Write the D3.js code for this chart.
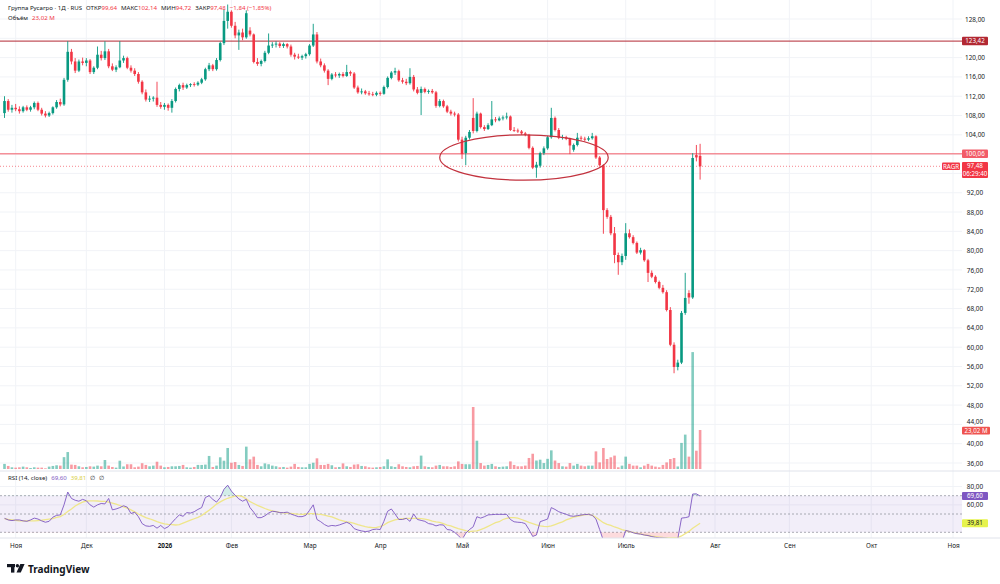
<!DOCTYPE html>
<html>
<head>
<meta charset="utf-8">
<script src="https://cdnjs.cloudflare.com/ajax/libs/d3/7.8.5/d3.min.js"></script>
<style>
  body { margin: 0; background: #fff; }
  svg text { font-family: "Noto Sans", "Open Sans", sans-serif; }
</style>
</head>
<body>
<svg id="chart" width="1000" height="584"></svg>
<script>
// daily bars, Rusagro (RAGR), oldest first
var opens = [
  108.5,111.0,109.2,109.6,109.3,108.9,109.7,109.2,109.7,110.6,
  109.2,108.4,108.0,108.5,109.7,110.8,110.3,115.4,121.2,119.2,
  117.3,119.2,118.9,119.4,117.0,117.9,120.6,119.9,121.3,118.2,
  117.5,118.0,119.4,119.9,117.9,117.3,116.6,115.0,112.8,111.3,
  111.5,111.7,110.2,109.8,110.2,109.6,111.0,113.5,114.3,113.8,
  114.3,114.5,114.4,114.8,115.5,117.6,118.4,117.6,119.5,123.0,
  127.6,129.5,126.6,124.6,125.2,124.2,125.6,124.8,119.1,118.7,
  119.3,121.0,122.5,122.7,122.9,122.4,122.8,122.3,120.6,120.2,
  120.0,120.3,120.7,122.5,124.8,119.2,118.4,117.3,115.6,116.5,
  116.3,116.6,116.2,117.0,116.7,113.8,112.8,113.0,112.6,112.4,
  112.3,112.7,112.5,113.9,115.8,116.9,117.2,115.3,115.0,114.7,
  116.0,113.4,112.7,113.5,112.9,113.1,112.8,110.0,111.0,109.9,
  108.8,108.4,108.2,103.0,100.2,103.4,107.5,104.8,108.4,105.6,
  105.2,106.0,107.2,107.0,107.4,107.6,107.8,105.0,104.9,104.7,
  104.3,104.0,101.3,97.2,97.6,100.2,101.2,103.5,107.5,105.0,
  103.4,103.5,103.2,100.9,101.9,103.4,103.2,103.0,103.3,103.7,
  99.3,97.7,88.4,87.0,83.6,79.1,77.6,78.9,83.6,82.8,
  81.6,79.6,80.1,78.0,75.4,74.6,73.5,72.3,71.4,67.7,
  60.5,55.9,56.8,67.1,71.2,70.3,99.8,99.64];
var highs = [
  112.0,111.4,110.2,110.4,109.9,110.0,110.1,110.0,110.9,110.9,
  109.6,108.9,108.8,109.9,111.2,111.5,115.8,123.4,121.8,119.9,
  119.6,120.0,119.9,119.7,118.2,122.3,121.4,123.4,121.8,118.8,
  118.4,123.4,120.4,120.2,118.4,117.8,117.0,115.3,113.4,112.1,
  112.0,115.0,110.8,110.6,110.5,111.4,113.8,114.6,114.8,114.6,
  114.7,114.9,115.1,115.8,117.9,118.9,118.7,119.9,123.3,130.0,
  131.0,129.8,127.4,125.8,126.0,129.8,126.3,125.0,119.9,119.6,
  121.4,125.0,123.2,123.4,123.2,123.1,123.0,122.7,121.0,120.8,
  120.6,121.0,122.8,127.0,125.3,119.8,118.8,117.6,116.8,117.0,
  116.9,117.0,118.5,117.3,117.0,114.2,113.6,113.3,113.1,112.9,
  113.0,113.0,114.2,116.1,117.2,117.9,117.5,115.8,115.6,117.8,
  116.4,113.9,114.0,113.8,113.4,113.5,113.1,111.4,111.3,110.2,
  109.2,108.8,108.5,103.6,103.8,105.0,111.6,108.8,108.6,106.0,
  106.4,111.0,107.7,107.8,108.0,108.6,108.0,105.6,105.3,105.0,
  104.6,104.2,101.6,98.4,100.5,101.6,103.8,109.6,107.8,105.4,
  104.0,103.8,103.4,102.2,104.4,103.8,103.6,103.7,104.4,103.9,
  99.6,97.9,88.8,87.4,84.9,79.6,79.4,85.7,84.4,83.2,
  81.9,80.6,80.3,78.3,75.9,74.9,73.8,72.9,71.8,68.3,
  61.0,57.4,67.5,75.4,71.8,100.2,101.9,102.14];
var lows = [
  107.5,108.8,108.6,108.9,108.4,108.6,108.9,108.8,109.3,108.9,
  108.0,107.6,107.7,108.2,109.4,109.9,110.0,115.0,118.6,116.8,
  117.0,118.4,118.2,116.6,116.6,117.6,119.4,119.5,117.8,117.2,
  117.0,117.8,118.9,117.6,116.9,116.2,114.6,112.4,110.9,110.8,
  110.9,109.8,109.4,109.2,109.0,108.6,110.7,113.0,113.3,113.5,
  113.9,114.0,114.1,114.5,115.2,117.2,117.2,117.3,119.2,122.6,
  126.0,126.2,124.0,121.6,123.6,123.9,124.4,118.8,118.3,118.2,
  119.0,120.7,122.0,122.1,122.0,122.0,121.9,120.2,119.6,119.7,
  119.5,119.8,120.4,122.2,118.8,118.0,116.9,114.3,115.3,115.9,
  115.8,115.9,116.0,116.2,113.5,112.5,112.4,112.3,112.1,112.0,
  112.0,112.1,112.3,113.6,115.5,116.4,115.0,114.6,114.3,114.4,
  113.0,112.4,108.1,112.6,112.5,112.5,109.6,109.7,109.6,108.5,
  108.0,107.8,102.6,99.0,97.7,103.0,104.3,104.5,105.3,104.8,
  105.0,105.8,106.6,106.8,107.0,107.2,104.8,104.6,104.4,104.0,
  103.7,101.0,96.9,95.1,97.2,99.8,100.9,103.2,104.7,103.1,
  103.0,102.9,100.0,100.5,101.6,102.8,102.6,102.7,103.0,99.0,
  97.4,83.5,86.6,83.2,77.4,75.0,77.0,78.1,82.5,81.3,
  79.3,79.2,77.7,73.5,74.3,73.2,72.0,71.1,67.4,60.2,
  54.6,55.2,56.5,66.7,69.0,70.0,98.5,94.72];
var closes = [
  111.0,109.2,109.6,109.3,108.9,109.7,109.2,109.7,110.6,109.2,
  108.4,108.0,108.5,109.7,110.8,110.3,115.4,121.2,119.2,117.3,
  119.2,118.9,119.4,117.0,117.9,120.6,119.9,121.3,118.2,117.5,
  118.0,119.4,119.9,117.9,117.3,116.6,115.0,112.8,111.3,111.5,
  111.7,110.2,109.8,110.2,109.6,111.0,113.5,114.3,113.8,114.3,
  114.5,114.4,114.8,115.5,117.6,118.4,117.6,119.5,123.0,127.6,
  129.5,126.6,124.6,125.2,124.2,129.2,124.8,119.1,118.7,119.3,
  121.0,122.5,122.7,122.9,122.4,122.8,122.3,120.6,120.2,120.0,
  120.3,120.7,122.5,124.8,119.2,118.4,117.3,115.6,116.5,116.3,
  116.6,116.2,117.0,116.7,113.8,112.8,113.0,112.6,112.4,112.3,
  112.7,112.5,113.9,115.8,116.9,117.2,115.3,115.0,114.7,116.0,
  113.4,112.7,113.5,112.9,113.1,112.8,110.0,111.0,109.9,108.8,
  108.4,108.2,103.0,100.0,103.4,104.6,104.8,108.4,105.6,105.2,
  106.0,107.2,107.0,107.4,107.6,107.8,105.0,104.9,104.7,104.3,
  104.0,101.3,97.2,97.8,100.2,101.2,103.5,107.5,105.0,103.4,
  103.5,103.2,101.8,101.9,103.4,103.2,103.0,103.3,103.7,99.3,
  97.7,88.4,87.0,83.6,79.1,77.6,78.9,83.6,82.8,81.6,
  79.6,80.1,78.0,75.4,74.6,73.5,72.3,71.4,67.7,60.5,
  55.9,56.8,67.1,70.2,70.3,99.2,99.32,97.48];
// volume, millions
var volumes = [
  3.0,1.8,1.0,0.8,1.0,1.4,1.0,0.6,1.0,0.8,
  0.8,0.4,1.4,1.8,2.2,2.0,7.0,10.0,2.6,2.4,
  1.6,1.0,1.2,1.6,1.4,2.0,1.6,5.3,2.0,1.2,
  0.8,4.9,1.5,2.8,2.8,1.0,1.4,3.4,2.4,1.6,
  2.0,4.3,2.0,1.0,1.2,1.6,1.6,1.8,2.4,1.0,
  0.8,1.2,2.4,2.4,2.6,7.7,1.2,2.0,6.9,4.9,
  12.4,3.7,4.1,2.4,1.8,13.2,5.7,7.3,2.4,1.6,
  3.3,2.8,2.0,1.6,1.0,1.2,0.8,1.4,3.0,1.2,
  1.0,1.0,3.0,3.7,6.3,2.4,2.4,3.0,2.2,1.0,
  1.2,3.3,1.6,1.2,2.6,2.8,1.8,1.6,1.0,0.8,
  1.0,1.2,1.6,5.7,1.6,1.2,2.8,1.6,1.2,1.0,
  1.6,1.8,7.9,1.6,1.2,1.0,2.0,2.4,1.6,1.6,
  1.2,1.6,4.5,3.0,2.8,2.8,36.6,16.7,3.5,2.0,
  2.4,3.0,1.6,1.2,1.4,1.6,4.5,2.4,1.6,1.6,
  2.0,6.5,9.0,5.0,5.5,3.5,6.0,11.0,5.0,3.5,
  1.6,1.4,3.5,2.0,3.0,2.0,1.6,2.0,2.0,10.4,
  3.9,12.4,5.9,6.9,7.9,1.0,2.0,7.3,3.0,2.0,
  2.0,1.0,2.0,3.0,2.0,1.4,1.0,2.4,3.9,5.9,
  6.5,1.5,15.4,20.3,7.3,69.0,10.8,23.02];
var rsi = [
  45.3,43.5,42.8,43.5,43.5,42.5,42,43.5,45.5,44.5,
  42.5,41,42,46.5,48.5,49,60,74,67,65,
  64,66,64.5,60,57.5,60,61.5,61,67,54.5,
  55.5,57,59,57.5,50.5,52,47,39.5,37,36.5,
  37.5,34.5,37.5,34,36,40.5,45,49,47.5,51.5,
  51,52.5,55,57,68,70,66,63,68,77,
  81.5,75,70.5,66.5,64,66,57,52,46,46,
  48,51,53,52.5,51.5,51.5,52,50,48.5,47.1,
  47.1,48.5,54,60,44,41.6,38.5,36.5,37.5,37,
  38,39.5,41,39,34,32.5,31.5,30.8,31.3,33,
  33.5,33,42,53,55.5,50,44,44,45.3,42,
  50,44,43,42,39.5,38.8,37,38.2,38,33,
  32.5,30,26.5,22,29,33,36,47,45.5,47,
  49,49.3,49.6,49.6,49.6,49.6,44,41.5,41,40.7,
  39.5,33,25.5,27,41.6,43,44.5,57,55,52.5,
  51,49.7,48,47.5,48.2,48.9,49.4,49.6,48.5,44.5,
  33,21,22,20,18,17.5,19.5,32,31,29.5,
  28.5,28,27,26.5,25.3,24.5,24,23.8,23.5,23,
  22.7,22.7,45.5,46,47,71.8,72,69.6];
var rsiMa = [
  45,44,43.5,43,42.5,42.4,42.4,42.4,42.4,42.8,
  43.2,43.8,44.4,45,46.3,47.2,49.5,52.8,55.5,58.8,
  61,63,64.2,64.4,64.3,64.2,63.9,63.7,63,62,
  60.7,59.3,57.8,56.5,54.5,52.3,50,48,46,44.8,
  43.3,41.6,40.4,39.2,38.6,38.3,38,38.5,40,41.6,
  43.2,44.8,46.3,48.3,51.2,54,57.5,60.8,63.2,65.5,
  67.2,68.5,69.5,70,69,66.5,63.5,61.5,59.5,57.8,
  56,54.6,53.5,52.5,51.8,51.3,50.9,50.6,50.2,49.8,
  49.6,50,50.4,50.4,49.8,49.5,48.8,47.8,46.8,45.3,
  43.5,42.5,41.5,40.9,39.8,38.3,37.2,36.3,35.5,35.2,
  35.4,36.2,38,40.5,42.2,43.5,44.5,44.8,45.3,45.3,
  45.3,45.3,45,44.3,43.6,42.3,41.3,40.8,39.5,37.8,
  37,35.5,34,33,31.8,30.7,31.2,31.5,33,34.5,
  36.5,38.5,40.5,41.6,44,45.3,46,46,45.5,44,
  42.4,40.8,39.5,38,37,36.5,36.2,37,38.5,40,
  41.5,43.5,45,46.5,47.3,48.3,49.2,49.6,48.6,46.5,
  43.5,40.5,38.7,37.5,35.8,34.5,33,31.8,30.8,29.8,
  28.9,28.2,27.1,26.5,25.8,25.3,24.8,24.3,24.2,24.2,
  24.2,24.2,26,28.5,31,34.4,37.2,39.81];

var monthLabels = ["Ноя", "Дек", "2026", "Фев", "Мар", "Апр", "Май", "Июн", "Июль", "Авг", "Сен", "Окт", "Ноя"];
var monthBars = [3, 22, 43, 61, 82, 101, 123, 146, 167, 191, 211, 233, 255];
var priceTicks = d3.range(36, 129, 4);
var rsiTicks = [80, 60];
var levels = [123.42, 100.06];
var zone = { from: 117, to: 162.3, top: 104.0, bottom: 94.6 };

var up = "#089981", down = "#f23645";
var right = 962;

var loc = d3.formatLocale({ decimal: ",", thousands: " ", grouping: [3], currency: ["", ""] });
var f2 = loc.format(".2f");

var svg = d3.select("#chart");

var x = d3.scaleLinear().domain([0, 187]).range([4.5, 700.1]);
var y = d3.scaleLinear().domain([36, 128]).range([463, 19]);
var yVol = d3.scaleLinear().domain([0, 23.02]).range([469, 430]);
var yRsi = d3.scaleLinear().domain([30, 70]).range([532.3, 495.7]);

var bars = d3.range(opens.length).map(function(i) {
  return { i: i, o: opens[i], h: highs[i], l: lows[i], c: closes[i], v: volumes[i], r: rsi[i], m: rsiMa[i] };
});

svg.append("rect").attr("width", 1000).attr("height", 584).attr("fill", "#fff");

// grid
var grid = svg.append("g").attr("stroke", "#f1f3f7").attr("stroke-width", 1);
grid.selectAll(".hg").data(priceTicks).enter().append("line")
  .attr("x1", 0).attr("x2", right)
  .attr("y1", function(d) { return y(d); }).attr("y2", function(d) { return y(d); });
grid.selectAll(".rg").data(rsiTicks).enter().append("line")
  .attr("x1", 0).attr("x2", right)
  .attr("y1", function(d) { return yRsi(d); }).attr("y2", function(d) { return yRsi(d); });
grid.selectAll(".vg").data(monthBars).enter().append("line")
  .attr("x1", function(d) { return x(d); }).attr("x2", function(d) { return x(d); })
  .attr("y1", 0).attr("y2", 538);

// volume
svg.append("g").selectAll("rect").data(bars).enter().append("rect")
  .attr("x", function(d) { return x(d.i) - 1.3; })
  .attr("width", 2.6)
  .attr("y", function(d) { return yVol(d.v); })
  .attr("height", function(d) { return yVol(0) - yVol(d.v); })
  .attr("fill", function(d) { return d.c >= d.o ? up : down; })
  .attr("fill-opacity", 0.5);

// levels
svg.append("g").selectAll("line").data(levels).enter().append("line")
  .attr("x1", 0).attr("x2", right)
  .attr("y1", function(d) { return y(d); }).attr("y2", function(d) { return y(d); })
  .attr("stroke", function(d, i) { return i == 0 ? "#b22833" : "#f25c68"; })
  .attr("stroke-width", 1);

// last price dotted line
svg.append("line")
  .attr("x1", 0).attr("x2", 942)
  .attr("y1", y(closes[closes.length - 1])).attr("y2", y(closes[closes.length - 1]))
  .attr("stroke", down).attr("stroke-opacity", 0.6).attr("stroke-dasharray", "1,2");

// candles
var candle = svg.append("g").selectAll("g").data(bars).enter().append("g");
candle.append("line")
  .attr("x1", function(d) { return x(d.i); }).attr("x2", function(d) { return x(d.i); })
  .attr("y1", function(d) { return y(d.h); }).attr("y2", function(d) { return y(d.l); })
  .attr("stroke", function(d) { return d.c >= d.o ? up : down; })
  .attr("stroke-width", 0.9);
candle.append("rect")
  .attr("x", function(d) { return x(d.i) - 1.3; })
  .attr("width", 2.6)
  .attr("y", function(d) { return y(Math.max(d.o, d.c)); })
  .attr("height", function(d) { return Math.max(0.8, Math.abs(y(d.o) - y(d.c))); })
  .attr("fill", function(d) { return d.c >= d.o ? up : down; });

// highlighted zone
svg.append("ellipse")
  .attr("cx", (x(zone.from) + x(zone.to)) / 2)
  .attr("cy", (y(zone.top) + y(zone.bottom)) / 2)
  .attr("rx", (x(zone.to) - x(zone.from)) / 2)
  .attr("ry", (y(zone.bottom) - y(zone.top)) / 2)
  .attr("fill", "none").attr("stroke", "#c2323e").attr("stroke-width", 1.2);

// RSI pane
svg.append("line").attr("x1", 0).attr("x2", 1000).attr("y1", 471).attr("y2", 471)
  .attr("stroke", "#e0e3eb");
var defs = svg.append("defs");
defs.append("clipPath").attr("id", "rsiClip").append("rect")
  .attr("x", 0).attr("y", 472).attr("width", right).attr("height", 66);
defs.append("clipPath").attr("id", "overClip").append("rect")
  .attr("x", 0).attr("y", 472).attr("width", right).attr("height", yRsi(70) - 472);
defs.append("clipPath").attr("id", "underClip").append("rect")
  .attr("x", 0).attr("y", yRsi(30)).attr("width", right).attr("height", 538 - yRsi(30));

var rsiG = svg.append("g").attr("clip-path", "url(#rsiClip)");
rsiG.append("rect").attr("x", 0).attr("width", right)
  .attr("y", yRsi(70)).attr("height", yRsi(30) - yRsi(70))
  .attr("fill", "#7e57c2").attr("fill-opacity", 0.1);
rsiG.selectAll(".band").data([70, 50, 30]).enter().append("line")
  .attr("x1", 0).attr("x2", right)
  .attr("y1", function(d) { return yRsi(d); }).attr("y2", function(d) { return yRsi(d); })
  .attr("stroke", "#9598a1").attr("stroke-dasharray", "2,2").attr("stroke-width", 0.8);

rsiG.append("path").datum(bars)
  .attr("clip-path", "url(#overClip)")
  .attr("fill", up).attr("fill-opacity", 0.18)
  .attr("d", d3.area().x(function(d) { return x(d.i); })
    .y0(yRsi(70)).y1(function(d) { return yRsi(d.r); }));
rsiG.append("path").datum(bars)
  .attr("clip-path", "url(#underClip)")
  .attr("fill", down).attr("fill-opacity", 0.18)
  .attr("d", d3.area().x(function(d) { return x(d.i); })
    .y0(yRsi(30)).y1(function(d) { return yRsi(d.r); }));

rsiG.append("path").datum(bars)
  .attr("fill", "none").attr("stroke", "#efe68a").attr("stroke-width", 1.3)
  .attr("d", d3.line().x(function(d) { return x(d.i); }).y(function(d) { return yRsi(d.m); }));
rsiG.append("path").datum(bars)
  .attr("fill", "none").attr("stroke", "#7e57c2").attr("stroke-width", 0.9)
  .attr("d", d3.line().x(function(d) { return x(d.i); }).y(function(d) { return yRsi(d.r); }));

// value tags on the scale (their positions hide the ticks underneath)
var tagYs = [y(levels[0]), y(levels[1]), y(closes[187]), y(closes[187]) + 7.5];
var shownTicks = priceTicks.filter(function(t) {
  return tagYs.every(function(ty) { return Math.abs(y(t) - ty) > 6; });
});

// price axis
var pAxis = svg.append("g").attr("transform", "translate(" + right + ",0)")
  .call(d3.axisRight(y).tickValues(shownTicks).tickSize(0).tickPadding(13).tickFormat(f2));
pAxis.select(".domain").remove();
pAxis.selectAll("text").attr("text-anchor", "middle").attr("font-size", 6.4).attr("fill", "#131722")
  .attr("dy", function(d) { return d == 44 ? "-0.15em" : "0.32em"; })
  .style("font-family", "Noto Sans, sans-serif");

var rAxis = svg.append("g").attr("transform", "translate(" + right + ",0)")
  .call(d3.axisRight(yRsi).tickValues(rsiTicks).tickSize(0).tickPadding(13).tickFormat(f2));
rAxis.select(".domain").remove();
rAxis.selectAll("text").attr("text-anchor", "middle").attr("font-size", 6.4).attr("fill", "#131722")
  .style("font-family", "Noto Sans, sans-serif");

// time axis
svg.append("line").attr("x1", 0).attr("x2", 1000).attr("y1", 538).attr("y2", 538).attr("stroke", "#e0e3eb");
var tAxis = svg.append("g").attr("transform", "translate(0,543)")
  .call(d3.axisBottom(x).tickValues(monthBars).tickSize(0).tickPadding(0)
    .tickFormat(function(d, i) { return monthLabels[i]; }));
tAxis.select(".domain").remove();
tAxis.selectAll("text").attr("font-size", 6.4).attr("fill", "#131722")
  .attr("font-weight", function(d, i) { return monthLabels[i] == "2026" ? 700 : 400; })
  .style("font-family", "Noto Sans, sans-serif");

function tag(cx, cy, w, h, fill, lines, color) {
  var g = svg.append("g");
  g.append("rect").attr("x", cx - w / 2).attr("y", cy - h / 2).attr("width", w).attr("height", h)
    .attr("rx", 1).attr("fill", fill);
  lines.forEach(function(t, k) {
    g.append("text").attr("x", cx).attr("y", cy - h / 2 + 6 + k * 7.5)
      .attr("text-anchor", "middle").attr("font-size", 6.2).attr("fill", color).text(t);
  });
}
tag(975, y(levels[0]), 26, 8.5, "#b22833", [f2(levels[0])], "#fff");
tag(975, y(levels[1]), 26, 8.5, "#f25c68", [f2(levels[1])], "#fff");
tag(951, y(closes[187]), 18, 7.5, down, ["RAGR"], "#fff");
svg.append("rect").attr("x", 962).attr("y", y(closes[187]) - 4.2).attr("width", 26).attr("height", 16)
  .attr("rx", 1).attr("fill", down);
svg.append("text").attr("x", 975).attr("y", y(closes[187]) + 2.2).attr("text-anchor", "middle")
  .attr("font-size", 6.2).attr("fill", "#fff").text(f2(closes[187]));
svg.append("text").attr("x", 975).attr("y", y(closes[187]) + 9.6).attr("text-anchor", "middle")
  .attr("font-size", 6.2).attr("fill", "#fff").text("06:29:40");
tag(976, yVol(volumes[187]) + 0.6, 28, 7.6, "#ef5350", [f2(volumes[187]) + " M"], "#fff");
tag(975, yRsi(rsi[187]), 26, 8, "#7e57c2", [f2(rsi[187])], "#fff");
tag(975, yRsi(rsiMa[187]), 26, 8, "#e6f34d", [f2(rsiMa[187])], "#131722");

// legends
var t1 = svg.append("text").attr("x", 8).attr("y", 10).attr("font-size", 6.1).attr("fill", "#131722");
t1.append("tspan").text("Группа Русагро · 1Д · RUS");
[["ОТКР", f2(opens[187])], ["МАКС", f2(highs[187])], ["МИН", f2(lows[187])], ["ЗАКР", f2(closes[187])]]
  .forEach(function(p) {
    t1.append("tspan").attr("dx", 4).text(p[0]);
    t1.append("tspan").attr("fill", down).text(p[1]);
  });
t1.append("tspan").attr("dx", 4).attr("fill", down)
  .text("−" + f2(closes[186] - closes[187]) + " (−" + f2((closes[186] - closes[187]) / closes[186] * 100) + "%)");

var t2 = svg.append("text").attr("x", 8).attr("y", 19.5).attr("font-size", 6.1).attr("fill", "#131722");
t2.append("tspan").text("Объём");
t2.append("tspan").attr("dx", 4).attr("fill", down).text(f2(volumes[187]) + " M");

var t3 = svg.append("text").attr("x", 8).attr("y", 480).attr("font-size", 6.1).attr("fill", "#131722");
t3.append("tspan").text("RSI (14, close)");
t3.append("tspan").attr("dx", 4).attr("fill", "#7e57c2").text(f2(rsi[187]));
t3.append("tspan").attr("dx", 4).attr("fill", "#d9cf45").text(f2(rsiMa[187]));
t3.append("tspan").attr("dx", 4).text("∅");
t3.append("tspan").attr("dx", 4).text("∅");

// logo
var logo = svg.append("g").attr("fill", "#131722");
logo.append("rect").attr("x", 7).attr("y", 564).attr("width", 8).attr("height", 3.2);
logo.append("rect").attr("x", 11).attr("y", 564).attr("width", 3.4).attr("height", 8.6);
logo.append("circle").attr("cx", 17.4).attr("cy", 565.7).attr("r", 1.7);
logo.append("path").attr("d", "M20.3,564 L24.6,564 L20.8,572.6 L16.5,572.6 Z");
svg.append("text").attr("x", 28).attr("y", 572.5).attr("font-size", 10).attr("font-weight", 700)
  .attr("fill", "#131722").text("TradingView");
</script>
</body>
</html>
